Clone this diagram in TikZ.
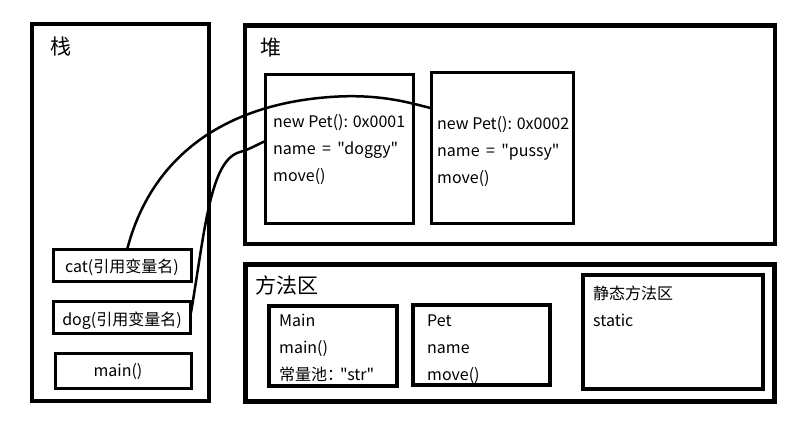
\documentclass[tikz,border=0pt]{standalone}
\usepackage{fontspec}
\newfontfamily\cjkfont{Noto Sans CJK SC}
\usetikzlibrary{calc}
\newcommand{\eqsp}{\hspace{0.4em}=\hspace{0.4em}}
\tikzset{
  box/.style={draw=black, inner sep=0pt, outer sep=0pt, line width=3pt},
  bigbox/.style={box, line width=4.5pt},
  txt/.style={inner sep=0pt, anchor=base west, font=\cjkfont\fontsize{16}{19}\selectfont},
  ctxt/.style={txt, anchor=base},
  title/.style={txt, font=\cjkfont\fontsize{21}{24}\selectfont},
  link/.style={draw=black, line width=2.5pt}
}
\begin{document}
\begin{tikzpicture}[x=1pt,y=-1pt]
\useasboundingbox (0,0) rectangle (800,430);
% outer areas
\node[bigbox, line width=4pt, minimum width=177pt, minimum height=377.6pt] (stack) at (120.2,212.5) {};
\node[bigbox, minimum width=530pt, minimum height=218.6pt] (heap) at (510.2,134.9) {};
\node[bigbox, line width=5pt, minimum width=528.7pt, minimum height=137.1pt] (method) at (509.85,332.75) {};
\node[title] (stacklbl) at (50,55) {栈};
\node[title] (heaplbl) at (260,56) {堆};
\node[title] (methodlbl) at (255,294) {方法区};
% stack frames
\node[box, minimum width=138pt, minimum height=31pt] (cat) at (122,265.5) {};
\node[box, minimum width=137pt, minimum height=31.8pt] (dog) at (121.5,317.4) {};
\node[box, minimum width=136pt, minimum height=35pt] (mainf) at (123,370.5) {};
\node[ctxt] (cattxt) at (122,272.7) {cat(引用变量名)};
\node[ctxt] (dogtxt) at (122,325) {dog(引用变量名)};
\node[ctxt] (maintxt) at (118,376.7) {main()};
% heap objects
\node[box, minimum width=148.3pt, minimum height=149pt] (obj1) at (339.15,148.8) {};
\node[box, minimum width=141.6pt, minimum height=151pt] (obj2) at (502.5,147.8) {};
\node[txt] (o1a) at (273,128) {new Pet(): 0x0001};
\node[txt] (o1b) at (273,155) {name\eqsp"doggy"};
\node[txt] (o1c) at (273,182) {move()};
\node[txt] (o2a) at (437,130) {new Pet(): 0x0002};
\node[txt] (o2b) at (437,157) {name\eqsp"pussy"};
\node[txt] (o2c) at (437,184) {move()};
% method area
\node[box, line width=4pt, minimum width=128.6pt, minimum height=80pt] (mainc) at (333,346.3) {};
\node[box, line width=4pt, minimum width=137pt, minimum height=80pt] (petc) at (481.2,345.3) {};
\node[box, line width=4pt, minimum width=180.3pt, minimum height=113.7pt] (stat) at (672.85,332) {};
\node[txt] (m1) at (279,326) {Main};
\node[txt] (m2) at (279,353) {main()};
\node[txt] (m3) at (279,380) {常量池：\kern-0.2em"str"};
\node[txt] (p1) at (427,326) {Pet};
\node[txt] (p2) at (427,353) {name};
\node[txt] (p3) at (427,380) {move()};
\node[txt] (s1) at (593,299) {静态方法区};
\node[txt] (s2) at (593,326) {static};
% references
\coordinate (catstart) at ($(cat.north)+(5,0)$);
\coordinate (catend) at ($(obj2.north west)+(0,36)$);
\coordinate (dogstart) at ($(dog.east)+(1,-5)$);
\coordinate (dogend) at ($(obj1.north west)+(0,67)$);
\draw[link] (catstart) .. controls (150,160) and (220,105) .. (330,97)
  .. controls (380,93.4) and (410,103) .. (catend);
\draw[link] (dogstart) .. controls (205,230) and (210,160) .. (240,152)
  .. controls (250,149.3) and (258,144) .. (dogend);
\end{tikzpicture}
\end{document}
